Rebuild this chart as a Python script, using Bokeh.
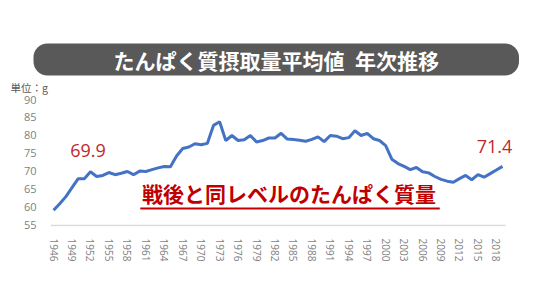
from bokeh.plotting import figure
from bokeh.models import Range1d, FixedTicker, Label, Title
from bokeh.embed import file_html
from bokeh.resources import INLINE

years = list(range(1946, 2020))
protein = [59.2, 61.0, 63.0, 65.5, 68.0, 68.0, 69.9, 68.6, 68.9, 69.7,
           69.1, 69.5, 70.0, 69.1, 70.1, 70.0, 70.5, 71.0, 71.4, 71.3,
           74.3, 76.4, 76.8, 77.7, 77.4, 77.8, 82.8, 83.8, 78.6, 80.0,
           78.6, 78.8, 80.0, 78.2, 78.6, 79.3, 79.3, 80.6, 79.0, 78.9,
           78.7, 78.4, 78.9, 79.6, 78.3, 80.0, 79.8, 79.1, 79.4, 81.3,
           80.0, 80.6, 79.1, 78.6, 77.2, 73.4, 72.2, 71.4, 70.5, 71.1,
           69.9, 69.6, 68.6, 67.8, 67.3, 67.0, 68.0, 68.9, 67.7, 69.1,
           68.4, 69.4, 70.4, 71.4]
xticks = list(range(1946, 2019, 3))
yticks = [55, 60, 65, 70, 75, 80, 85, 90]
title = "たんぱく質摂取量平均値\u2002年次推移"
unit_label = "単位：g"
note = "戦後と同レベルのたんぱく質量"
start_label = "69.9"
end_label = "71.4"

JP = "Noto Sans CJK JP"

p = figure(width=536, height=302, output_backend="svg", toolbar_location=None,
           x_range=Range1d(1945.5, 2022.25), y_range=Range1d(54.7, 90),
           min_border_left=50, min_border_right=14, min_border_top=99,
           min_border_bottom=76)
p.outline_line_color = None
p.xgrid.visible = False
p.ygrid.visible = False

p.xaxis.ticker = FixedTicker(ticks=xticks)
p.xaxis.major_label_orientation = "vertical"
p.xaxis.axis_line_color = None
p.xaxis.major_tick_line_color = None
p.xaxis.minor_tick_line_color = None
p.xaxis.major_label_text_color = "#7f7f7f"
p.xaxis.major_label_text_font = "Open Sans"
p.xaxis.major_label_text_font_size = "10px"
p.xaxis.major_label_standoff = 6

p.yaxis.ticker = FixedTicker(ticks=yticks)
p.yaxis.axis_line_color = None
p.yaxis.major_tick_line_color = None
p.yaxis.minor_tick_line_color = None
p.yaxis.major_label_text_color = "#7f7f7f"
p.yaxis.major_label_text_font = "Open Sans"
p.yaxis.major_label_text_font_size = "11px"
p.yaxis.major_label_standoff = 8

# baseline at 55 spanning the data years
p.segment(x0=[years[0] - 0.5], y0=[yticks[0]], x1=[years[-1] + 0.5], y1=[yticks[0]],
          line_color="#d9d9d9", line_width=1.5)

p.line(years, protein, line_color="#4472C4", line_width=3)

p.add_layout(Title(text=unit_label, align="left", offset=-40,
                   text_color="#595959", text_font=JP, text_font_size="10.5px",
                   text_font_style="normal", standoff=10), "above")
p.add_layout(Title(text=title, align="left", offset=-17,
                   text_color="white", text_font=JP, text_font_style="bold",
                   text_font_size="21px", background_fill_color="#595959",
                   border_radius=14, padding=(80, 1), standoff=-6), "above")

p.add_layout(Label(x=1948.7, y=75.8, text=start_label, text_align="left",
                   text_baseline="middle", text_color="#C0282D",
                   text_font="Open Sans", text_font_size="18px"))
p.add_layout(Label(x=2014.8, y=76.9, text=end_label, text_align="left",
                   text_baseline="middle", text_color="#C0282D",
                   text_font="Open Sans", text_font_size="18px"))

p.add_layout(Label(x=1984.3, y=63.9, text=note, text_align="center",
                   text_baseline="middle", text_color="#C00000",
                   text_font=JP, text_font_style="bold", text_font_size="21px"))
p.segment(x0=[1960.1], y0=[59.7], x1=[2008.8], y1=[59.7],
          line_color="#C00000", line_width=2)

open("out.html", "w").write(file_html(p, INLINE))
